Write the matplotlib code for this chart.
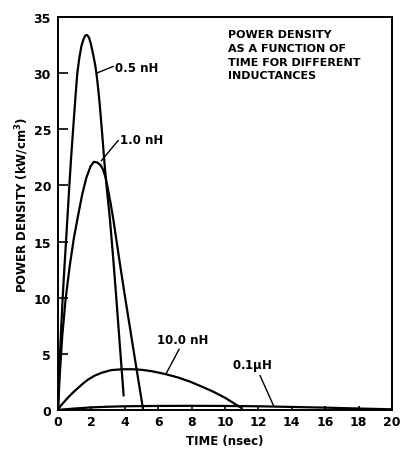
import matplotlib
matplotlib.use('Agg')
import matplotlib.pyplot as plt
import numpy as np

plt.rcParams['font.family'] = ['DejaVu Sans']
plt.rcParams['font.weight'] = 'bold'

# curves (time in nsec, power density in kW/cm^3)
t_05 = [0, 0.06, 0.12, 0.2, 0.28, 0.38, 0.48, 0.58, 0.68, 0.8, 0.92, 1.04, 1.15, 1.27, 1.4, 1.52, 1.63, 1.74,
        1.85, 1.97, 2.1, 2.22, 2.3, 2.4, 2.5, 2.65, 2.8, 2.95, 3.11, 3.3, 3.5, 3.7, 3.93]
p_05 = [0, 2.5, 5, 7.6, 10, 12.6, 15, 17.5, 20, 22.8, 25.3, 27.8, 29.9, 31.3, 32.4, 33.0, 33.35, 33.4,
        33.2, 32.6, 31.7, 30.8, 30.0, 28.7, 27.2, 24.5, 21.7, 19.3, 17.0, 13.6, 9.8, 5.8, 1.3]

t_10 = [0, 0.1, 0.25, 0.45, 0.7, 0.95, 1.2, 1.45, 1.7, 1.95, 2.14, 2.35, 2.55, 2.7, 2.85, 3.0, 3.15,
        3.31, 3.5, 3.75, 4.0, 4.3, 4.6, 4.85, 5.1]
p_10 = [0, 3, 6.5, 9.8, 12.8, 15.3, 17.3, 19.2, 20.7, 21.7, 22.1, 22.05, 21.8, 21.4, 20.7, 19.6, 18.4,
        17.0, 15.1, 12.6, 10.2, 7.4, 4.6, 2.3, 0]

t_100 = [0, 0.15, 0.3, 0.6, 0.9, 1.2, 1.5, 1.8, 2.2, 2.6, 3.2, 3.9, 4.5, 5.0, 5.6, 6.4, 7.2, 7.9, 8.6,
         9.3, 10.0, 10.5, 11.0]
p_100 = [0, 0.35, 0.6, 1.1, 1.55, 1.95, 2.35, 2.7, 3.05, 3.3, 3.55, 3.62, 3.62, 3.57, 3.45, 3.2, 2.88,
         2.52, 2.08, 1.62, 1.08, 0.62, 0.15]

t_01u = [0, 1, 2, 3, 4, 6, 8, 10, 12, 14, 16, 18, 20]
p_01u = [0, 0.12, 0.22, 0.28, 0.32, 0.35, 0.36, 0.35, 0.32, 0.26, 0.2, 0.12, 0.05]

xticks = list(range(0, 21, 2))
yticks = list(range(0, 36, 5))

fig = plt.figure(figsize=(4, 4.52), dpi=100)
ax = fig.add_axes([0.145, 0.091, 0.835, 0.869])

lw = 1.6
ax.plot(t_05, p_05, 'k-', lw=lw)
ax.plot(t_10, p_10, 'k-', lw=lw)
ax.plot(t_100, p_100, 'k-', lw=lw)
ax.plot(t_01u, p_01u, 'k-', lw=lw)

ax.set_xlim(0, 20)
ax.set_ylim(0, 35)
ax.set_xticks(xticks)
ax.set_yticks(yticks)
ax.tick_params(axis='both', direction='in', labelsize=9, width=1.2)
ax.tick_params(axis='y', length=7, pad=5)
ax.tick_params(axis='x', length=3, pad=4)
for s in ax.spines.values():
    s.set_linewidth(1.4)

ax.set_xlabel('TIME (nsec)', fontsize=8.5, fontweight='bold', labelpad=4)
ax.set_ylabel('POWER DENSITY (kW/cm$^\\mathbf{3}$)', fontsize=8.5, fontweight='bold')
ax.yaxis.set_label_coords(-0.082, 0.524)

# curve labels with pointer lines
fs = 8.5
ax.text(3.4, 30.5, '0.5 nH', fontsize=fs, fontweight='bold', va='center')
ax.plot([2.3, 3.3], [30.0, 30.6], 'k-', lw=1.0)
ax.text(3.7, 24.1, '1.0 nH', fontsize=fs, fontweight='bold', va='center')
ax.plot([2.6, 3.6], [22.2, 24.0], 'k-', lw=1.0)
ax.text(5.9, 6.3, '10.0 nH', fontsize=fs, fontweight='bold', va='center')
ax.plot([6.5, 7.25], [3.3, 5.4], 'k-', lw=1.0)
ax.text(10.4, 4.0, '0.1$\\mathbf{\\mu}$H', fontsize=fs, fontweight='bold', va='center')
ax.plot([12.1, 12.9], [3.05, 0.4], 'k-', lw=1.0)

ax.text(10.2, 33.9, 'POWER DENSITY\nAS A FUNCTION OF\nTIME FOR DIFFERENT\nINDUCTANCES',
        fontsize=8, fontweight='bold', va='top', ha='left', linespacing=1.45)

fig.savefig('out.png', dpi=100)
